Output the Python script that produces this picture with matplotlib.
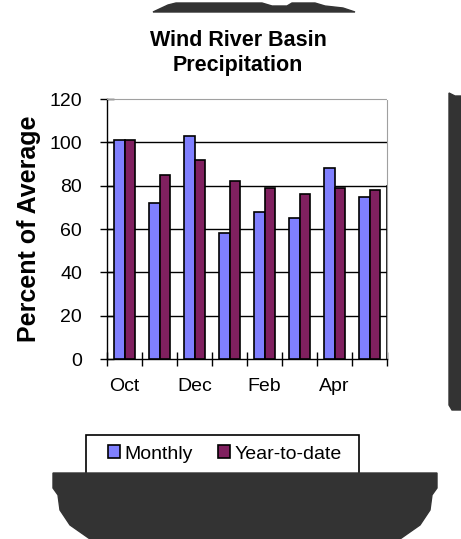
import matplotlib.pyplot as plt
from matplotlib.patches import Polygon, Rectangle
import numpy as np

plt.rcParams['font.family'] = ['Liberation Sans', 'DejaVu Sans']

months = ["Oct", "Nov", "Dec", "Jan", "Feb", "Mar", "Apr", "May"]
monthly = [101, 72, 103, 58, 68, 65, 88, 75]
year_to_date = [101, 85, 92, 82, 79, 76, 79, 78]
y_ticks = [0, 20, 40, 60, 80, 100, 120]

W, H = 461, 539


def px(x, y):
    """Pixel position (origin top left) as figure fractions"""
    return (x / W, 1 - y / H)


fig = plt.figure(figsize=(W / 100, H / 100), dpi=100)
ax = fig.add_axes([107 / W, (H - 359) / H, 280 / W, 260 / H])

x = np.arange(len(months))
bw = 0.3
ax.bar(x - bw / 2, monthly, bw, color="#8080ff", edgecolor="black",
       linewidth=1.2, label="Monthly", zorder=3)
ax.bar(x + bw / 2, year_to_date, bw, color="#80205f", edgecolor="black",
       linewidth=1.2, label="Year-to-date", zorder=3)

ax.set_xlim(-0.5, len(months) - 0.5)
ax.set_ylim(0, 120)
ax.set_yticks(y_ticks)
ax.set_yticklabels([str(v) for v in y_ticks], fontsize=14)
for v in y_ticks[1:-1]:
    ax.axhline(v, color="black", linewidth=1, zorder=1)

# category boundaries get the tick marks, every other month gets a label
ax.set_xticks(np.arange(-0.5, len(months), 1.0))
ax.set_xticklabels([])
ax.set_xticks(x[::2], minor=True)
ax.set_xticklabels(months[::2], minor=True, fontsize=14)
ax.tick_params(axis="x", which="minor", length=0, pad=14)
ax.tick_params(axis="both", which="major", direction="inout", length=10,
               width=1, color="black")
ax.tick_params(axis="y", pad=13)

for side in ["top", "right"]:
    ax.spines[side].set_color("#a0a0a0")
    ax.spines[side].set_linestyle((0, (1, 1)))
ax.spines["left"].set_linewidth(1)
ax.spines["bottom"].set_linewidth(1)
ax.axvline(len(months) - 0.5, ymin=0, ymax=80 / 120, color="black",
           linewidth=1.2, zorder=2)

ax.set_ylabel("Percent of Average", fontsize=18, fontweight="bold",
              labelpad=6)
fig.text(*px(238, 53), "Wind River Basin\nPrecipitation",
         ha="center", va="center", fontsize=15.5, fontweight="bold",
         linespacing=1.2)

leg = fig.legend(loc="center", bbox_to_anchor=px(225, 454),
                 ncol=2, fontsize=14, frameon=False,
                 handlelength=0.6, handleheight=0.6, handletextpad=0.25,
                 columnspacing=1.3)
# legend box drawn by hand, its lower edge sits under the shadow
fig.add_artist(Rectangle(px(86, 480), 273 / W, 45 / H, fill=False,
                         edgecolor="black", linewidth=1.2,
                         transform=fig.transFigure, zorder=5))

# dark shadow shapes around the panel
shade = "#333333"
top = [(153, 12), (168, 5), (176, 3), (262, 3), (272, 6), (287, 6),
       (292, 3), (315, 3), (325, 6), (343, 8), (355, 12)]
right = [(449, 93), (455, 96), (461, 96), (461, 410), (452, 410),
         (449, 405)]
bottom = [(53, 473), (437, 473), (437, 488), (432, 495), (430, 510),
          (420, 525), (400, 539), (90, 539), (70, 525), (60, 510),
          (58, 495), (53, 488)]
for pts in (top, right, bottom):
    fig.add_artist(Polygon([px(a, b) for a, b in pts], closed=True,
                           color=shade, transform=fig.transFigure,
                           zorder=10))

fig.savefig("out.png", dpi=100)
